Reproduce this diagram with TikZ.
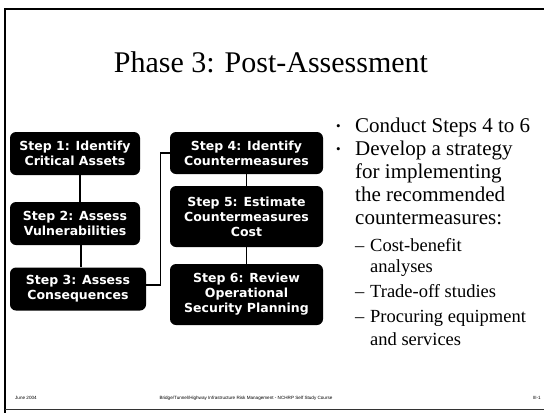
\documentclass[tikz,border=0pt]{standalone}
\usepackage{fontspec}
\setmainfont{Liberation Serif}
\newfontfamily\boxfont{DejaVu Sans}
\newfontfamily\footfont{Liberation Sans}
\begin{document}
\begin{tikzpicture}[x=1pt,y=-1pt,
  stepbox/.style={fill=black, rounded corners=6pt, text=white,
    font=\boxfont\bfseries\fontsize{12.5}{15}\selectfont,
    align=center, inner sep=0pt},
  leftcol/.style={stepbox, minimum width=130pt, minimum height=43pt},
  rightcol/.style={stepbox, minimum width=153pt},
  link/.style={draw=black, line width=1.3pt},
  frame/.style={draw=black, line width=1.2pt},
  dot/.style={anchor=base west, inner sep=0pt, font=\fontsize{13}{13}\selectfont},
  lvlone/.style={anchor=base west, inner sep=0pt, font=\fontsize{21}{23}\selectfont},
  lvltwo/.style={anchor=base west, inner sep=0pt, font=\fontsize{18.5}{21}\selectfont},
  foot/.style={inner sep=0pt, font=\footfont\fontsize{4.6}{5}\selectfont}]

% page area and slide frame
\fill[white] (0,0) rectangle (544,413);
\useasboundingbox (0,0) rectangle (544,413);
\draw[frame] (544,9) -- (5,9) -- (5,413);
\draw[draw=black!80, line width=0.8pt] (5,409) -- (544,409);

% title
\node[inner sep=0pt, anchor=base, font=\fontsize{30}{32}\selectfont] (title) at (271,72) {Phase 3: Post-Assessment};

% step boxes, left column
\node[leftcol] (s1) at (75,153.5) {Step 1: Identify\\Critical Assets};
\node[leftcol] (s2) at (75,223.5) {Step 2: Assess\\Vulnerabilities};
\node[leftcol, minimum width=136pt] (s3) at (78,289) {Step 3: Assess\\Consequences};

% step boxes, right column
\node[rightcol, minimum height=42pt] (s4) at (246.5,153) {Step 4: Identify\\Countermeasures};
\node[rightcol, minimum height=61pt] (s5) at (246.5,216.5) {Step 5: Estimate\\Countermeasures\\Cost};
\node[rightcol, minimum height=61pt] (s6) at (246.5,294.5) {Step 6: Review\\Operational\\Security Planning};

% connectors
\draw[link] ([xshift=5pt]s1.south) -- ([xshift=5pt]s2.north);
\draw[link] ([xshift=6pt]s2.south) -- ([xshift=3pt]s3.north);
\draw[link] ([yshift=4pt]s3.east) -- ++(14,0) |- (s4.west);
\draw[link] (s4) -- (s5);
\draw[link] (s5) -- (s6);

% bullet list
\node[dot] (d1) at (336,130) {\textbullet};
\node[lvlone] (t1) at (355,132) {Conduct Steps 4 to 6};
\node[dot] (d2) at (336,153) {\textbullet};
\node[lvlone] (t2) at (355,155) {Develop a strategy};
\node[lvlone] (t3) at (355,178) {for implementing};
\node[lvlone] (t4) at (355,201) {the recommended};
\node[lvlone] (t5) at (355,224) {countermeasures:};
\node[lvltwo] (e1) at (355,251) {--};
\node[lvltwo] (u1) at (370,251) {Cost-benefit};
\node[lvltwo] (u2) at (370,272) {analyses};
\node[lvltwo] (e2) at (355,297) {--};
\node[lvltwo] (u3) at (370,297) {Trade-off studies};
\node[lvltwo] (e3) at (355,322) {--};
\node[lvltwo] (u4) at (370,322) {Procuring equipment};
\node[lvltwo] (u5) at (370,345) {and services};

% footer
\node[foot, anchor=base west] (fdate) at (15,399) {June 2004};
\node[foot, anchor=base] (fcourse) at (246,399) {Bridge/Tunnel/Highway Infrastructure Risk Management - NCHRP Self Study Course};
\node[foot, anchor=base east] (fpage) at (541,399) {III-1};
\end{tikzpicture}
\end{document}
